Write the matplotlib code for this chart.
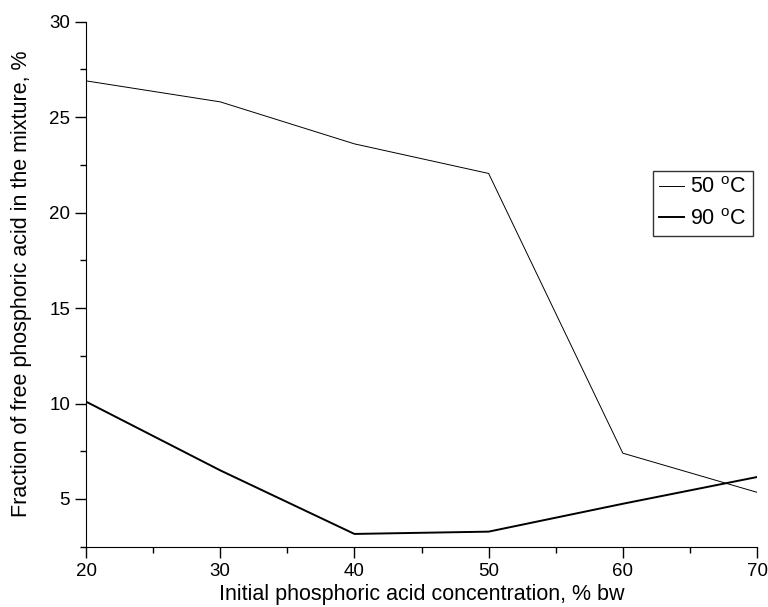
import matplotlib.pyplot as plt
from matplotlib.ticker import MultipleLocator

plt.rcParams['font.family'] = ['Liberation Sans', 'DejaVu Sans']

# acid concentration, % bw
conc = [20, 30, 40, 50, 60, 70]
# fraction of free acid, %
free_50 = [26.9, 25.8, 23.6, 22.05, 7.4, 5.35]
free_90 = [10.1, 6.5, 3.17, 3.29, 4.75, 6.15]

fig = plt.figure(figsize=(7.68, 6.07), dpi=100)
ax = fig.add_axes([0.112, 0.0993, 0.8737, 0.865])

ax.plot(conc, free_50, color='black', lw=0.7, label='50 $^{\\mathregular{o}}$C')
ax.plot(conc, free_90, color='black', lw=1.4, label='90 $^{\\mathregular{o}}$C')

ax.set_xlim(20, 70)
ax.set_ylim(2.5, 30)
ax.xaxis.set_major_locator(MultipleLocator(10))
ax.xaxis.set_minor_locator(MultipleLocator(5))
ax.yaxis.set_major_locator(MultipleLocator(5))
ax.yaxis.set_minor_locator(MultipleLocator(2.5))
ax.tick_params(which='major', length=8, width=1, labelsize=13.5, direction='out')
ax.tick_params(which='minor', length=4, width=1, direction='out')

ax.spines['top'].set_visible(False)
ax.spines['right'].set_visible(False)

ax.set_xlabel('Initial phosphoric acid concentration, % bw', fontsize=15.5, labelpad=3)
ax.set_ylabel('Fraction of free phosphoric acid in the mixture, %', fontsize=15.5, labelpad=12)

leg = ax.legend(loc='upper left', bbox_to_anchor=(0.850, 0.7188),
                bbox_transform=fig.transFigure, fontsize=15.5,
                frameon=True, fancybox=False, shadow=False, handlelength=1.15,
                handletextpad=0.3, borderpad=0.3, labelspacing=0.5,
                borderaxespad=0)
leg.get_frame().set_edgecolor('black')
leg.get_frame().set_linewidth(1.0)

fig.savefig('out.png', dpi=100)
